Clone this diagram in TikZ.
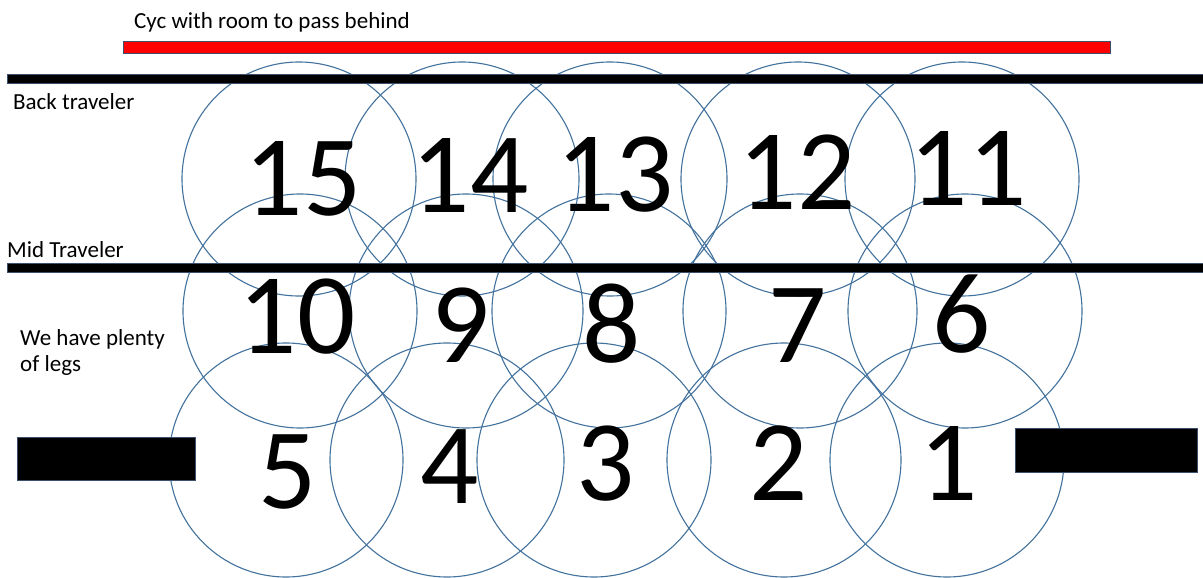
\documentclass[tikz,border=0pt]{standalone}
\usepackage{fontspec}
\setmainfont{Carlito}
\usetikzlibrary{positioning}
\definecolor{ringblue}{RGB}{65,113,156}
\definecolor{edgeslate}{RGB}{60,80,110}

\begin{document}
\begin{tikzpicture}[
  x=1pt, y=-1pt,
  ring/.style={draw=ringblue, line width=1.1pt, circle, minimum size=234pt, inner sep=0pt},
  bar/.style={draw=edgeslate, fill=black, line width=0.8pt, inner sep=0pt, anchor=north west},
  redbar/.style={draw=edgeslate, fill=red, line width=0.8pt, inner sep=0pt, anchor=north west},
  numlab/.style={font=\fontsize{115}{115}\selectfont, inner sep=0pt},
  note/.style={font=\fontsize{23}{26}\selectfont, inner sep=0pt, align=left},
]
  \useasboundingbox (0,0) rectangle (1203,578);

  % back row of circles
  \node[ring] (c15) at (299,179) {};
  \node[ring] (c14) at (462,179) {};
  \node[ring] (c13) at (610,179) {};
  \node[ring] (c12) at (798,179) {};
  \node[ring] (c11) at (962,179) {};
  % middle row
  \node[ring] (c10) at (300,311) {};
  \node[ring] (c9) at (466,311) {};
  \node[ring] (c8) at (609,311) {};
  \node[ring] (c7) at (800,311) {};
  \node[ring] (c6) at (965,311) {};
  % front row
  \node[ring] (c5) at (286,460) {};
  \node[ring] (c4) at (447,460) {};
  \node[ring] (c3) at (594,460) {};
  \node[ring] (c2) at (784,460) {};
  \node[ring] (c1) at (947,460) {};

  % cyc, travelers and the two black legs
  \node[redbar, minimum width=987pt, minimum height=12pt] (cyc) at (123,41) {};
  \node[bar, minimum width=1200pt, minimum height=9pt] (backtrav) at (7,74) {};
  \node[bar, minimum width=1200pt, minimum height=9pt] (midtrav) at (7,263) {};
  \node[bar, minimum width=178pt, minimum height=43pt] (legleft) at (17,437) {};
  \node[bar, minimum width=182pt, minimum height=44pt] (legright) at (1015,428) {};

  \node[note, anchor=base west] (cyctext) at (134,29) {Cyc with room to pass behind};
  \node[note, anchor=base west] (backtext) at (13,110) {Back traveler};
  \node[note, anchor=base west] (midtext) at (7,257) {Mid Traveler};
  \node[note, anchor=north west] (legtext) at (20,329) {We have plenty\\of legs};

  % numbers
  \node[numlab] (n15) at (303,179) {15};
  \node[numlab] (n14) at (470,175) {14};
  \node[numlab] (n13) at (615,175) {13};
  \node[numlab] (n12) at (797,172) {12};
  \node[numlab] (n11) at (968,168) {11};
  \node[numlab] (n10) at (297,317) {10};
  \node[numlab] (n9) at (461,325) {9};
  \node[numlab] (n8) at (612,324) {8};
  \node[numlab] (n7) at (798,326) {7};
  \node[numlab] (n6) at (962,314) {6};
  \node[numlab] (n5) at (288,472) {5};
  \node[numlab] (n4) at (450,467) {4};
  \node[numlab] (n3) at (606,464) {3};
  \node[numlab] (n2) at (779,463) {2};
  \node[numlab] (n1) at (949,463) {1};
\end{tikzpicture}
\end{document}
